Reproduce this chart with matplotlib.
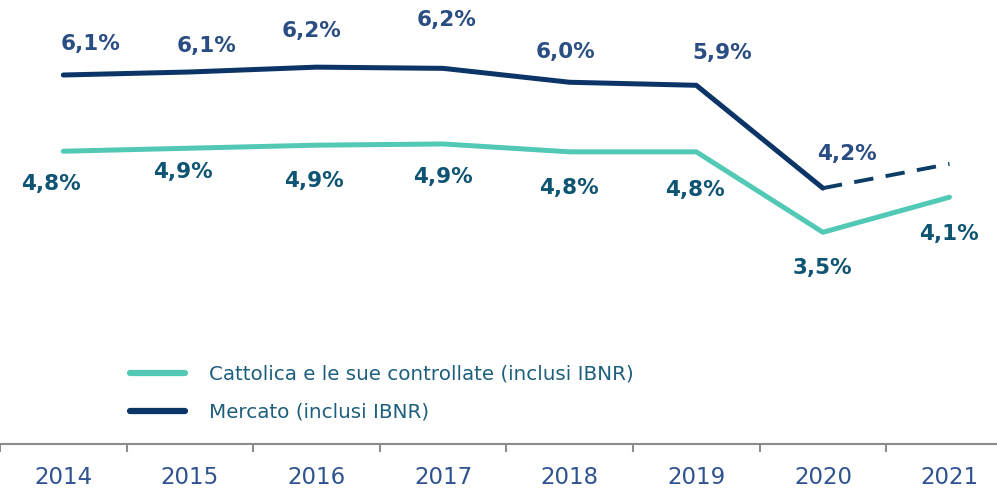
import matplotlib
matplotlib.use('Agg')
import matplotlib.pyplot as plt

# data
years = ['2014', '2015', '2016', '2017', '2018', '2019', '2020', '2021']
cattolica = [4.84, 4.89, 4.94, 4.96, 4.83, 4.83, 3.50, 4.08]
cattolica_labels = ['4,8%', '4,9%', '4,9%', '4,9%', '4,8%', '4,8%', '3,5%', '4,1%']
mercato = [6.10, 6.15, 6.23, 6.21, 5.98, 5.93, 4.23]
mercato_labels = ['6,1%', '6,1%', '6,2%', '6,2%', '6,0%', '5,9%', '4,2%']
mercato_2021_est = 4.63

# label offsets in pixels (label centre relative to the point)
merc_off = [(27, 31), (17, 26), (-5, 36), (3, 48), (-4, 30), (26, 32), (24, 34)]
catt_off = [(-12, -33), (-7, -24), (-3, -36), (0, -33), (-1, -36), (-1, -38), (-1, -36), (-1, -37)]

NAVY = '#0b3566'
TEAL = '#52c9b5'
NAVY_TXT = '#2a4d83'
TEAL_TXT = '#0f5573'

plt.rcParams['font.family'] = ['DejaVu Sans']

fig = plt.figure(figsize=(9.97, 4.92), dpi=100)
ax = fig.add_axes([0, 48 / 492, 1, 1 - 48 / 492])

x = list(range(len(years)))

ax.plot(x, cattolica, color=TEAL, lw=3.6, solid_capstyle='round', solid_joinstyle='round',
        label='Cattolica e le sue controllate (inclusi IBNR)')
ax.plot(x[:len(mercato)], mercato, color=NAVY, lw=3.6, solid_capstyle='round', solid_joinstyle='round',
        label='Mercato (inclusi IBNR)')
# 2021 market value is only an estimate -> dashed
ax.plot([x[6], x[7]], [mercato[-1], mercato_2021_est], color='#0d3d66', lw=2.8,
        dashes=(5, 3.2))

for i, (v, t) in enumerate(zip(mercato, mercato_labels)):
    ax.annotate(t, (x[i], v), xytext=merc_off[i], textcoords='offset pixels',
                ha='center', va='center', fontsize=15.5, fontweight='bold', color=NAVY_TXT)
for i, (v, t) in enumerate(zip(cattolica, cattolica_labels)):
    ax.annotate(t, (x[i], v), xytext=catt_off[i], textcoords='offset pixels',
                ha='center', va='center', fontsize=15.5, fontweight='bold', color=TEAL_TXT)

for s in ['top', 'right', 'left']:
    ax.spines[s].set_visible(False)
ax.spines['bottom'].set_color('#8c8c8c')
ax.spines['bottom'].set_linewidth(1.5)
ax.set_yticks([])
ax.set_xticks(x)
ax.set_xticklabels(years, fontsize=16.5, color='#2f5391')
ax.tick_params(axis='x', which='major', length=0, pad=16)
ax.set_xticks([i - 0.5 for i in range(len(years) + 1)], minor=True)
ax.tick_params(axis='x', which='minor', length=6, width=1.5, color='#8c8c8c', direction='out')

# limits after the ticks, set_xticks would widen them
ax.set_xlim(-0.5, -0.5 + 997 / 126.6)
ax.set_ylim(0, 7.34)

leg = fig.legend(loc='upper left', bbox_to_anchor=(130 / 997, 1 - 365 / 492), frameon=False,
                 fontsize=14.3, handlelength=2.77, handletextpad=1.2, labelspacing=0.95,
                 borderpad=0, borderaxespad=0)
for t in leg.get_texts():
    t.set_color('#1d5f7c')
for h in leg.get_lines():
    h.set_linewidth(4.5)

fig.savefig('out.png', dpi=100)
